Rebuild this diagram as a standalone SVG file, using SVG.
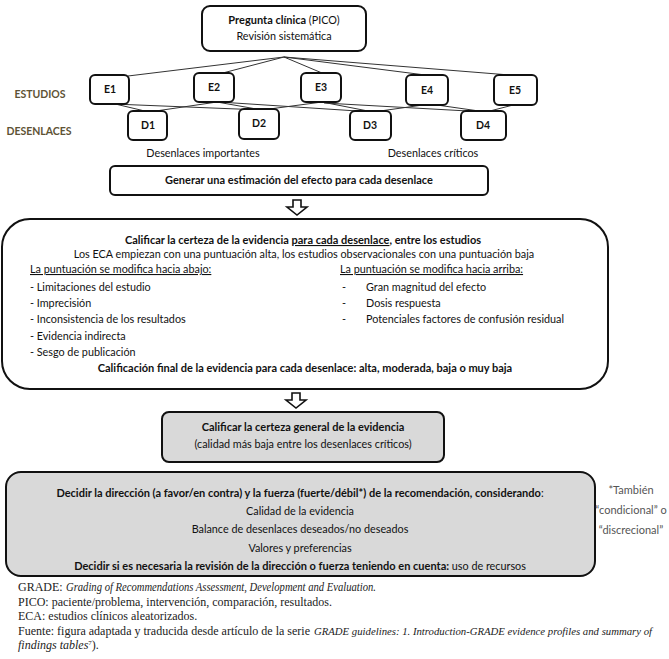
<svg xmlns="http://www.w3.org/2000/svg" width="669" height="659" viewBox="0 0 669 659">
<style>
text{font-family:Lato,"Liberation Sans",sans-serif;font-size:10.8px;fill:#111}
.b{font-weight:bold;font-size:11px}
.c{text-anchor:middle}
.k{font-weight:bold;text-anchor:middle;font-size:10.5px}
.lbl{font-weight:bold;fill:#5e5335;text-anchor:middle;font-size:10.5px}
.note{fill:#555;text-anchor:middle;font-size:11px}
.box{fill:#fff;stroke:#111;stroke-width:2}
.gray{fill:#d9d9d9;stroke:#111;stroke-width:2}
.arrow{fill:#fff;stroke:#111;stroke-width:1.6;stroke-linejoin:miter}
.conn line{stroke:#333;stroke-width:1}
.ft{font-family:"Liberation Serif",serif;font-size:12px;fill:#222}
.i{font-style:italic}
.u{text-decoration:underline}
</style>
<rect width="669" height="659" fill="#fff"/>

<g id="connectors" class="conn">
<line x1="284" y1="57" x2="128" y2="76"/>
<line x1="284" y1="57" x2="219" y2="74"/>
<line x1="284" y1="57" x2="322" y2="73"/>
<line x1="284" y1="57" x2="433" y2="76"/>
<line x1="284" y1="57" x2="522" y2="76"/>
<line x1="111" y1="103" x2="149" y2="112"/>
<line x1="113" y1="104" x2="262" y2="110"/>
<line x1="217" y1="102" x2="149" y2="112"/>
<line x1="217" y1="102" x2="262" y2="110"/>
<line x1="219" y1="102" x2="373" y2="112"/>
<line x1="322" y1="102" x2="262" y2="110"/>
<line x1="322" y1="102" x2="373" y2="112"/>
<line x1="324" y1="103" x2="486" y2="112"/>
<line x1="430" y1="104" x2="373" y2="112"/>
<line x1="430" y1="104" x2="486" y2="112"/>
<line x1="517" y1="104" x2="486" y2="112"/>
</g>

<g id="lbl-estudios"><text class="lbl" x="40" y="98">ESTUDIOS</text></g>
<g id="lbl-desenlaces"><text class="lbl" x="39" y="135">DESENLACES</text></g>

<g id="pico">
<rect class="box" x="202" y="6" width="164" height="45" rx="8"/>
<text class="c" x="284" y="24"><tspan class="b">Pregunta clínica</tspan> (PICO)</text>
<text class="c" x="284" y="40">Revisión sistemática</text>
</g>

<g id="E1"><rect class="box" x="90" y="75" width="39" height="29" rx="5"/><text class="k" x="110" y="93">E1</text></g>
<g id="E2"><rect class="box" x="194" y="73" width="40" height="29" rx="5"/><text class="k" x="214" y="91">E2</text></g>
<g id="E3"><rect class="box" x="301" y="73" width="40" height="29" rx="5"/><text class="k" x="321" y="91">E3</text></g>
<g id="E4"><rect class="box" x="406" y="75" width="42" height="30" rx="5"/><text class="k" x="427" y="94">E4</text></g>
<g id="E5"><rect class="box" x="494" y="75" width="43" height="30" rx="5"/><text class="k" x="515" y="94">E5</text></g>

<g id="D1"><rect class="box" x="128" y="111" width="39" height="29" rx="5"/><text class="k" x="148" y="129">D1</text></g>
<g id="D2"><rect class="box" x="239" y="109" width="40" height="30" rx="5"/><text class="k" x="259" y="127">D2</text></g>
<g id="D3"><rect class="box" x="350" y="111" width="41" height="29" rx="5"/><text class="k" x="370" y="129">D3</text></g>
<g id="D4"><rect class="box" x="461" y="111" width="45" height="29" rx="5"/><text class="k" x="483" y="129">D4</text></g>

<g id="grp-importantes"><text class="c" x="203" y="157">Desenlaces importantes</text></g>
<g id="grp-criticos"><text class="c" x="433" y="157">Desenlaces críticos</text></g>

<g id="generar">
<rect class="box" x="110" y="166" width="378" height="29" rx="5"/>
<text class="c b" x="299" y="184">Generar una estimación del efecto para cada desenlace</text>
</g>

<g id="arrow1"><path class="arrow" d="M293,200 H301 V207 H307 L297,215 L287,207 H293 Z"/></g>

<g id="calificar">
<rect class="box" x="2" y="219" width="606" height="170" rx="28"/>
<text class="c b" x="303" y="244">Calificar la certeza de la evidencia <tspan class="u">para cada desenlace</tspan>, entre los estudios</text>
<text class="c" x="304" y="258">Los ECA empiezan con una puntuación alta, los estudios observacionales con una puntuación baja</text>
<text class="u" x="30" y="273">La puntuación se modifica hacia abajo:</text>
<text x="30" y="291">- Limitaciones del estudio</text>
<text x="30" y="307">- Imprecisión</text>
<text x="30" y="323">- Inconsistencia de los resultados</text>
<text x="30" y="340">- Evidencia indirecta</text>
<text x="30" y="356">- Sesgo de publicación</text>
<text class="u" x="340" y="273">La puntuación se modifica hacia arriba:</text>
<text x="342" y="291">-</text><text x="366" y="291">Gran magnitud del efecto</text>
<text x="342" y="307">-</text><text x="366" y="307">Dosis respuesta</text>
<text x="342" y="323">-</text><text x="366" y="323">Potenciales factores de confusión residual</text>
<text class="c b" x="305" y="372">Calificación final de la evidencia para cada desenlace: alta, moderada, baja o muy baja</text>
</g>

<g id="arrow2"><path class="arrow" d="M292,393 H300 V400 H306 L296,408 L286,400 H292 Z"/></g>

<g id="certeza-general">
<rect class="gray" x="162" y="412" width="282" height="50" rx="7"/>
<text class="c b" x="303" y="431">Calificar la certeza general de la evidencia</text>
<text class="c" x="303" y="448">(calidad más baja entre los desenlaces críticos)</text>
</g>

<g id="decidir">
<rect class="gray" x="6" y="472" width="589" height="104" rx="15"/>
<text class="c" x="300" y="497"><tspan class="b">Decidir la dirección (a favor/en contra) y la fuerza (fuerte/débil*) de la recomendación, considerando</tspan>:</text>
<text class="c" x="300" y="515">Calidad de la evidencia</text>
<text class="c" x="300" y="533">Balance de desenlaces deseados/no deseados</text>
<text class="c" x="300" y="552">Valores y preferencias</text>
<text class="c" x="300" y="570"><tspan class="b">Decidir si es necesaria la revisión de la dirección o fuerza teniendo en cuenta:</tspan> uso de recursos</text>
</g>

<g id="nota">
<text class="note" x="631" y="494">*También</text>
<text class="note" x="631" y="514">“condicional” o</text>
<text class="note" x="631" y="534">“discrecional”</text>
</g>

<g id="footer">
<text class="ft" x="18" y="591">GRADE:</text>
<text class="ft i" x="66" y="591" textLength="310" lengthAdjust="spacingAndGlyphs">Grading of Recommendations Assessment, Development and Evaluation.</text>
<text class="ft" x="18" y="606">PICO: paciente/problema, intervención, comparación, resultados.</text>
<text class="ft" x="18" y="620">ECA: estudios clínicos aleatorizados.</text>
<text class="ft" x="18" y="635" textLength="292" lengthAdjust="spacingAndGlyphs">Fuente: figura adaptada y traducida desde artículo de la serie</text>
<text class="ft i" x="314" y="635" font-size="11" style="font-size:11px" textLength="338" lengthAdjust="spacingAndGlyphs">GRADE guidelines: 1. Introduction-GRADE evidence profiles and summary of</text>
<text class="ft" x="18" y="649"><tspan class="i">findings tables</tspan><tspan font-size="7" dy="-4">7</tspan><tspan dy="4">).</tspan></text>
</g>
</svg>
